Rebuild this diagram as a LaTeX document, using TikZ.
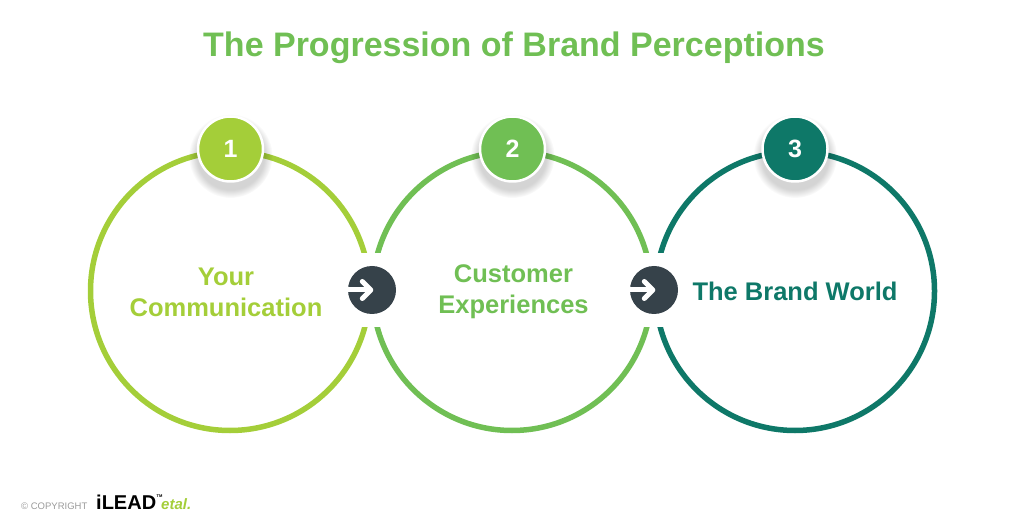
\documentclass[tikz,border=0pt]{standalone}
\usepackage{fontspec}
\setmainfont{Liberation Sans}
\usetikzlibrary{calc,fadings}

\definecolor{limegreen}{HTML}{A4CE39}
\definecolor{midgreen}{HTML}{70BF54}
\definecolor{deepgreen}{HTML}{0E7868}
\definecolor{slatedark}{HTML}{36424A}
\definecolor{copygray}{HTML}{9A9A9A}

\tikzset{
  ring/.style={circle, draw=#1, line width=5.5pt, minimum size=279pt, inner sep=0pt},
  badge/.style={circle, fill=#1, draw=white, line width=2.5pt, minimum size=65pt, inner sep=0pt,
    text=white, font=\fontsize{25}{25}\selectfont\bfseries},
  halo/.style={black, opacity=.17, path fading=circle with fuzzy edge 20 percent},
  gap/.style={fill=white, draw=none, minimum width=40pt, minimum height=74pt, inner sep=0pt},
  roundel/.style={circle, fill=slatedark, minimum size=48pt, inner sep=0pt},
  ringlabel/.style={text=#1, align=center, font=\fontsize{25.5}{31}\selectfont\bfseries},
}

\begin{document}
\begin{tikzpicture}[x=1pt, y=1pt]
    \def\Ln{23} \def\Hd{8.5}
    \useasboundingbox (0, 0) rectangle (1024, 514);
    \coordinate (one) at (230, 223);
    \coordinate (two) at (512, 223);
    \coordinate (three) at (795, 223);

    \node [text=midgreen, font=\fontsize{34}{34}\selectfont\bfseries] (title) at (514, 466) {The Progression of Brand Perceptions};

    \node [ring=limegreen] (ringa) at (one) {};
    \node [ring=midgreen] (ringb) at (two) {};
    \node [ring=deepgreen] (ringc) at (three) {};

    \node [gap] (gapa) at (371, 224) {};
    \node [gap] (gapb) at (653, 224) {};

    \node [roundel] (nexta) at (372, 224) {};
    \node [roundel] (nextb) at (654, 224) {};
    \draw [white, line width=5pt] (nexta.west) -- ($ (nexta.west) + (\Ln, 0) $);
    \draw [white, line width=5pt] (nextb.west) -- ($ (nextb.west) + (\Ln, 0) $);
    \draw [white, line width=5pt, line cap=round, line join=round] ($ (nexta.west) + (\Ln - \Hd, \Hd) $) -- ($ (nexta.west) + (\Ln, 0) $) -- ($ (nexta.west) + (\Ln - \Hd, -\Hd) $);
    \draw [white, line width=5pt, line cap=round, line join=round] ($ (nextb.west) + (\Ln - \Hd, \Hd) $) -- ($ (nextb.west) + (\Ln, 0) $) -- ($ (nextb.west) + (\Ln - \Hd, -\Hd) $);

    \fill [halo] (230.5, 358) circle (42);
    \fill [halo] (512.5, 358) circle (42);
    \fill [halo] (795, 358) circle (42);
    \node [badge=limegreen] (numa) at (230.5, 365) {1};
    \node [badge=midgreen] (numb) at (512.5, 365) {2};
    \node [badge=deepgreen] (numc) at (795, 365) {3};

    \node [ringlabel=limegreen] (texta) at (226, 222) {Your\\Communication};
    \node [ringlabel=midgreen] (textb) at (513.5, 222.5) {Customer\\Experiences};
    \node [ringlabel=deepgreen] (textc) at (795, 223) {The Brand World};

    \node [text=copygray, font=\fontsize{9.5}{9.5}\selectfont, anchor=west, inner sep=0pt] (copy) at (21, 8) {© COPYRIGHT};
    \node [text=black, font=\fontsize{20}{20}\selectfont\bfseries, anchor=west, inner sep=0pt] (logo) at (96, 12) {iLEAD};
    \node [text=black, font=\fontsize{4}{4}\selectfont\bfseries, anchor=north west, inner sep=0pt] (tm) at (logo.north east) {TM};
    \node [text=limegreen, font=\fontsize{15}{15}\selectfont\itshape\bfseries, anchor=west, inner sep=0pt] (etal) at (161, 10) {etal.};
\end{tikzpicture}
\end{document}
